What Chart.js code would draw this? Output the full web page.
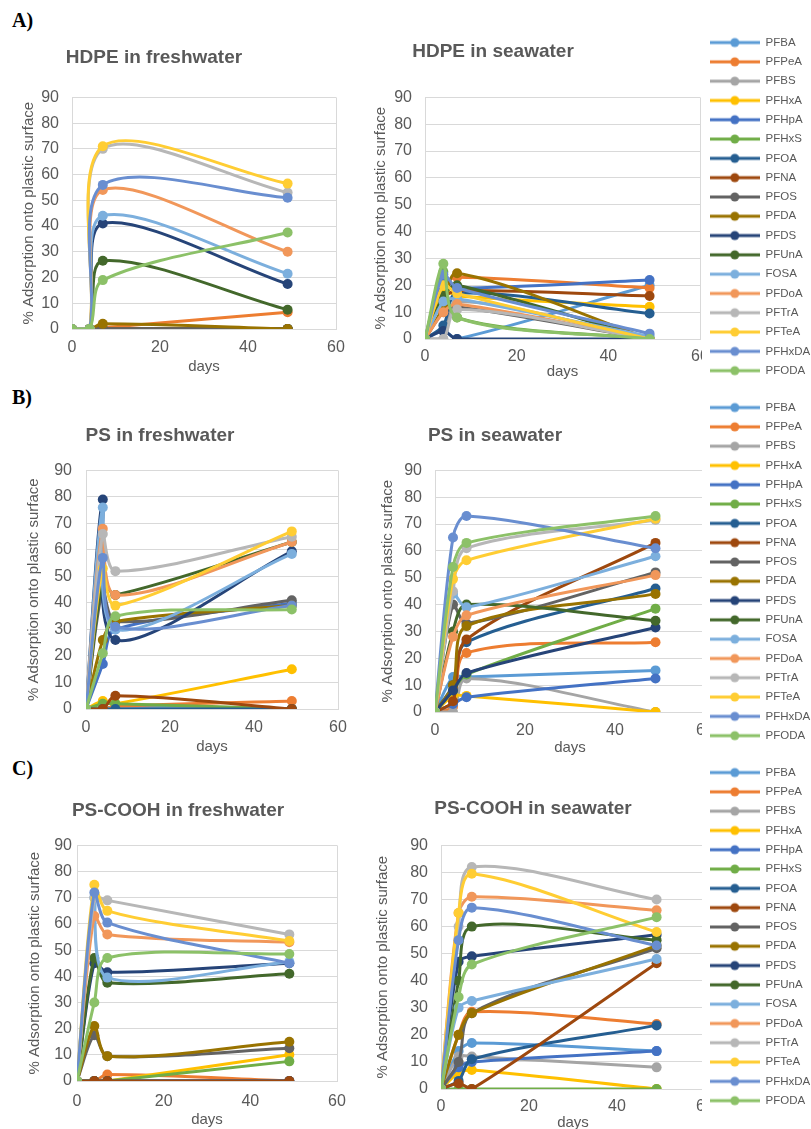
<!DOCTYPE html>
<html>
<head>
<meta charset="utf-8">
<script src="https://cdn.jsdelivr.net/npm/chart.js@4.4.1/dist/chart.umd.min.js"></script>
<style>
  body { margin: 0; width: 811px; height: 1129px; background: #fff; position: relative; overflow: hidden; }
  canvas { position: absolute; }
  .legend-box { background: #fff; }
  .tag { position: absolute; font: bold 20px "Liberation Serif", "Times New Roman", serif; color: #000; line-height: 1; }
</style>
</head>
<body>
<div class="tag" style="left:12px;top:10px">A)</div>
<div class="tag" style="left:12px;top:387px">B)</div>
<div class="tag" style="left:12px;top:758px">C)</div>

<canvas id="hdpeFresh"></canvas>
<canvas id="hdpeSea"></canvas>
<canvas id="psFresh"></canvas>
<canvas id="psSea"></canvas>
<canvas id="coohFresh"></canvas>
<canvas id="coohSea"></canvas>
<canvas id="legendA" class="legend-box"></canvas>
<canvas id="legendB" class="legend-box"></canvas>
<canvas id="legendC" class="legend-box"></canvas>

<script>
// sampling days
const days = [0, 4, 7, 49];

const compounds = ['PFBA', 'PFPeA', 'PFBS', 'PFHxA', 'PFHpA', 'PFHxS', 'PFOA', 'PFNA', 'PFOS',
  'PFDA', 'PFDS', 'PFUnA', 'FOSA', 'PFDoA', 'PFTrA', 'PFTeA', 'PFHxDA', 'PFODA'];

const seriesColors = ['#5B9BD5', '#ED7D31', '#A5A5A5', '#FFC000', '#4472C4', '#70AD47', '#255E91',
  '#9E480E', '#636363', '#997300', '#264478', '#43682B', '#7CAFDD', '#F1975A', '#B7B7B7',
  '#FFCD33', '#698ED0', '#8CC168'];

const xTicks = [0, 20, 40, 60];
const yTicks = [0, 10, 20, 30, 40, 50, 60, 70, 80, 90];

// % adsorbed, one row per compound (same order as compounds), one column per day
const hdpeFreshwater = [
  [0, 0, 0, 0], [0, 0, 0.5, 6.5], [0, 0, 0, 0], [0, 0, 0, 0], [0, 0, 0, 0], [0, 0, 0, 0],
  [0, 0, 0, 0], [0, 0, 0, 0], [0, 0, 0, 0], [0, 0, 2, 0], [0, 0, 41, 17.5], [0, 0, 26.5, 7.5],
  [0, 0, 44, 21.5], [0, 0, 54, 30], [0, 0, 70, 53], [0, 0, 71, 56.5], [0, 0, 56, 51], [0, 0, 19, 37.5]
];
const hdpeSeawater = [
  [0, 3, 0, 20], [0, 20, 23, 19], [0, 0, 14, 0], [0, 18, 16, 12], [0, 22, 19, 22], [0, 25, 8, 0],
  [0, 5, 17, 9.5], [0, 15, 18, 16], [0, 10, 12, 0], [0, 12, 24.5, 0], [0, 3, 0, 0], [0, 16, 20, 0],
  [0, 14, 15, 1], [0, 10, 13, 0], [0, 0, 11, 0], [0, 20, 17, 0], [0, 24, 19, 2], [0, 28, 8, 0]
];
const psFreshwater = [
  [0, 0, 1, 0], [0, 0, 1, 3], [0, 0, 0, 0], [0, 3, 2, 15], [0, 17, 30, 40], [0, 2, 2, 0],
  [0, 0, 0, 0], [0, 0, 5, 0], [0, 45, 33, 41], [0, 26, 33, 39], [0, 79, 26, 59.5], [0, 48, 43, 63],
  [0, 76, 30, 58.5], [0, 68, 43, 63], [0, 66, 52, 65], [0, 53, 39, 67], [0, 57, 31, 39], [0, 21, 35, 37.5]
];
const psSeawater = [
  [0, 13, 13, 15.5], [0, 2, 22, 26], [0, 0, 12.5, 0], [0, 6, 6, 0], [0, 3, 5.5, 12.5], [0, 8, 14, 38.5],
  [0, 10, 26, 46], [0, 4, 27, 63], [0, 40, 33, 52], [0, 10, 32, 44], [0, 8, 14.5, 31.5], [0, 30, 40, 34],
  [0, 44, 39, 58], [0, 28, 36, 51], [0, 45, 61, 71.5], [0, 49.5, 56.5, 72], [0, 65, 73, 61], [0, 54, 63, 73]
];
const psCoohFreshwater = [
  [0, 0, 0, 0], [0, 0, 2.5, 0], [0, 0, 0, 0], [0, 0, 0, 10], [0, 0, 0, 0], [0, 0, 0, 7.5],
  [0, 0, 0, 0], [0, 0, 0, 0], [0, 17.5, 9.5, 12.5], [0, 21, 9.5, 15], [0, 45, 41.5, 45], [0, 47, 37.5, 41],
  [0, 70, 39.5, 45.5], [0, 63, 56, 53], [0, 70, 69, 56], [0, 75, 65, 53.5], [0, 72, 60.5, 45], [0, 30, 47, 48.5]
];
const psCoohSeawater = [
  [0, 14, 17, 14], [0, 20, 28.5, 24], [0, 12, 12, 8], [0, 6, 7, 0], [0, 8, 10, 14], [0, 0, 0, 0],
  [0, 3, 11, 23.5], [0, 2, 0, 46.5], [0, 10, 28, 52], [0, 20, 28, 53], [0, 47, 49, 57], [0, 40, 60, 55],
  [0, 30, 32.5, 48], [0, 65, 71, 66], [0, 60, 82, 70], [0, 65, 79.5, 58], [0, 55, 67, 53], [0, 34, 46, 63.5]
];

const FONT = '"Liberation Sans", Arial, sans-serif';
const TEXT = '#595959';
const GRID = '#D9D9D9';
const TITLE_LH = 19 * 1.2, TICK_LH = 16 * 1.2, AXIS_LH = 15 * 1.2;

// L/R/T/B = plot area edges, TX/TY = chart title centre, YTX = y-title centre,
// gap = space between y labels and plot, XTY = x tick label centre, DY = "days" centre
function drawPanel(id, title, values, g) {
  const canvas = document.getElementById(id);
  const right = g.R + 14;
  const left = 2 * g.TX - right;
  const top = g.TY - TITLE_LH / 2 - 2;
  const bottom = g.DY + AXIS_LH / 2 + 3;
  canvas.width = right - left;
  canvas.height = bottom - top;
  canvas.style.left = left + 'px';
  canvas.style.top = top + 'px';

  const datasets = compounds.map((name, i) => ({
    label: name,
    data: days.map((d, j) => ({ x: d, y: values[i][j] })),
    borderColor: seriesColors[i],
    backgroundColor: seriesColors[i],
    pointBackgroundColor: seriesColors[i],
    borderWidth: 3,
    pointRadius: 5,
    pointBorderWidth: 0,
    tension: 0.3,
    order: compounds.length - i
  }));

  new Chart(canvas, {
    type: 'line',
    data: { datasets },
    options: {
      responsive: false,
      animation: false,
      events: [],
      layout: { padding: { left: 0, right: right - g.R, top: 0, bottom: 0 } },
      scales: {
        x: {
          type: 'linear', min: 0, max: 60,
          afterBuildTicks: s => { s.ticks = xTicks.map(v => ({ value: v })); },
          afterFit: s => { s.height = bottom - g.B; s.paddingLeft = 0; s.paddingRight = 0; },
          grid: {
            drawTicks: false,
            color: c => (c.tick && (c.tick.value === 0 || c.tick.value === 60)) ? GRID : 'rgba(0,0,0,0)'
          },
          border: { display: true, color: GRID },
          ticks: { color: TEXT, font: { family: FONT, size: 16 }, padding: g.XTY - g.B - TICK_LH / 2 },
          title: {
            display: true, text: 'days', color: TEXT, font: { family: FONT, size: 15 },
            padding: { top: 0, bottom: bottom - g.DY - AXIS_LH / 2 }
          }
        },
        y: {
          min: 0, max: 90,
          afterBuildTicks: s => { s.ticks = yTicks.map(v => ({ value: v })); },
          afterFit: s => { s.width = g.L - left; s.paddingTop = 0; s.paddingBottom = 0; },
          grid: { drawTicks: false, color: GRID },
          border: { display: true, color: GRID },
          ticks: { color: TEXT, font: { family: FONT, size: 16 }, padding: g.gap },
          title: {
            display: true, text: '% Adsorption onto plastic surface', color: TEXT,
            font: { family: FONT, size: 15 },
            padding: { top: g.YTX - left - AXIS_LH / 2, bottom: 0 }
          }
        }
      },
      plugins: {
        legend: { display: false },
        tooltip: { enabled: false },
        title: {
          display: true, text: title, color: TEXT,
          font: { family: FONT, size: 19, weight: 'bold' },
          padding: { top: g.TY - top - TITLE_LH / 2, bottom: g.T - g.TY - TITLE_LH / 2 }
        }
      }
    }
  });
}

// line-with-marker glyph used in the legends
function swatch(color) {
  const c = document.createElement('canvas');
  c.width = 50; c.height = 12;
  const ctx = c.getContext('2d');
  ctx.strokeStyle = color; ctx.lineWidth = 3;
  ctx.beginPath(); ctx.moveTo(0, 6); ctx.lineTo(50, 6); ctx.stroke();
  ctx.fillStyle = color;
  ctx.beginPath(); ctx.arc(25, 6, 4.5, 0, Math.PI * 2); ctx.fill();
  return c;
}
const swatches = seriesColors.map(swatch);

function drawLegend(id, firstY, step) {
  const canvas = document.getElementById(id);
  const size = 11.5;
  const pad = step - size;
  canvas.width = 109;
  canvas.height = 18 * step + 20;
  canvas.style.left = '702px';
  canvas.style.top = (firstY - size / 2 - pad) + 'px';
  new Chart(canvas, {
    type: 'line',
    data: { datasets: compounds.map((name, i) => ({ label: name, data: [], borderColor: seriesColors[i] })) },
    options: {
      responsive: false,
      animation: false,
      events: [],
      layout: { padding: 0 },
      scales: { x: { display: false }, y: { display: false } },
      plugins: {
        tooltip: { enabled: false },
        legend: {
          position: 'left', align: 'start', maxWidth: 109,
          labels: {
            usePointStyle: true, pointStyleWidth: 50, padding: pad,
            font: { family: FONT, size: size }, color: TEXT,
            generateLabels: chart => chart.data.datasets.map((ds, i) => ({
              text: ds.label, pointStyle: swatches[i], fillStyle: ds.borderColor,
              strokeStyle: ds.borderColor, lineWidth: 0, hidden: false, datasetIndex: i, fontColor: TEXT
            }))
          }
        }
      }
    }
  });
}

drawPanel('hdpeFresh', 'HDPE in freshwater', hdpeFreshwater,
  { L: 72, R: 336, T: 97, B: 329, TX: 161, TY: 57, YTX: 29, gap: 13, XTY: 348, DY: 367 });
drawPanel('hdpeSea', 'HDPE in seawater', hdpeSeawater,
  { L: 425, R: 700, T: 97, B: 339, TX: 500, TY: 51, YTX: 381, gap: 13, XTY: 357, DY: 372 });
drawPanel('psFresh', 'PS in freshwater', psFreshwater,
  { L: 86, R: 338, T: 470, B: 709, TX: 167, TY: 435, YTX: 34, gap: 14, XTY: 728, DY: 747 });
drawPanel('psSea', 'PS in seawater', psSeawater,
  { L: 435, R: 705, T: 470, B: 712, TX: 502, TY: 435, YTX: 388, gap: 13, XTY: 731, DY: 748 });
drawPanel('coohFresh', 'PS-COOH in freshwater', psCoohFreshwater,
  { L: 77, R: 337, T: 845, B: 1081, TX: 185, TY: 810, YTX: 35, gap: 5, XTY: 1102, DY: 1120 });
drawPanel('coohSea', 'PS-COOH in seawater', psCoohSeawater,
  { L: 441, R: 705, T: 845, B: 1089, TX: 540, TY: 808, YTX: 383, gap: 13, XTY: 1107, DY: 1123 });

drawLegend('legendA', 43, 19.3);
drawLegend('legendB', 408, 19.3);
drawLegend('legendC', 773, 19.3);
</script>
</body>
</html>
